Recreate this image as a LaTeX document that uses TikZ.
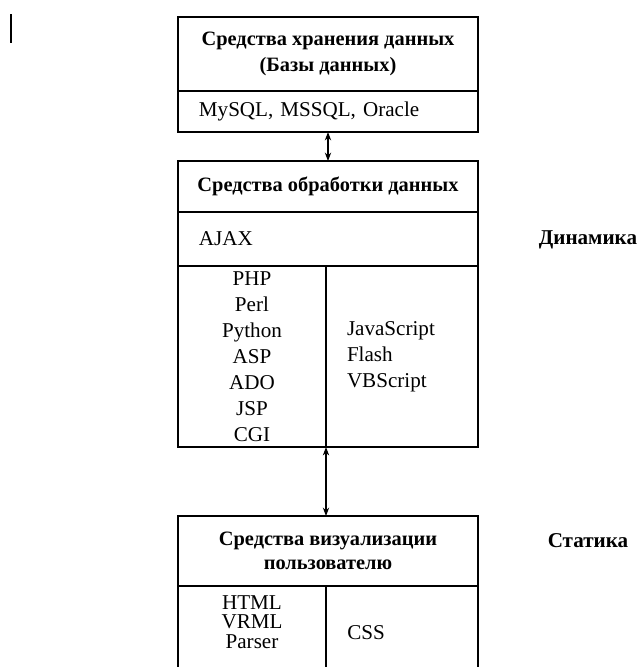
\documentclass[tikz,border=0pt]{standalone}
\usepackage{fontspec}
\setmainfont{Liberation Serif}
\usetikzlibrary{arrows.meta}
\usetikzlibrary{positioning}

\begin{document}
\begin{tikzpicture}[
    >={Stealth[length=6pt,width=4.5pt]},
    line join=miter,
    x=0.025cm,
    y=-0.025cm
]

% =========================================================
% Styles
% =========================================================
\tikzset{
    cellbox/.style={draw=black,line width=1.3pt,outer sep=0pt,inner sep=0pt,
        font=\fontsize{15}{18.5}\selectfont},
    headcell/.style={cellbox,minimum width=7.5cm,align=center,
        font=\bfseries\fontsize{14.5}{18.5}\selectfont},
    rowcell/.style={cellbox,minimum width=7.5cm,text width=6.45cm,
        align=left,inner xsep=0.525cm},
    leftcell/.style={cellbox,minimum width=3.7cm,align=center},
    rightcell/.style={cellbox,minimum width=3.8cm,text width=2.75cm,
        align=left,inner xsep=0.525cm},
    celltext/.style={inner sep=0pt,font=\fontsize{15}{14}\selectfont},
    sidelabel/.style={font=\bfseries\fontsize{15}{18}\selectfont},
    linkarrow/.style={<->,line width=0.8pt}
}

% =========================================================
% Frame
% =========================================================
\useasboundingbox (0,0) rectangle (641,667);
\clip (0,0) rectangle (641,667);

% text cursor, top left
\draw[line width=1.4pt] (11,14) -- (11,43);

% =========================================================
% Storage box
% =========================================================
\node[headcell,minimum height=1.85cm,anchor=north] (storehead)
    at (328,17) {Средства хранения данных\\(Базы данных)};
\node[rowcell,minimum height=1.025cm,below=0pt of storehead] (storelist)
    {MySQL, MSSQL, Oracle};

% =========================================================
% Processing box
% =========================================================
\node[headcell,minimum height=1.275cm,anchor=north] (prochead)
    at (328,161) {Средства обработки данных};
\node[rowcell,minimum height=1.35cm,below=0pt of prochead] (ajaxrow)
    {AJAX};
\node[leftcell,minimum height=4.525cm,anchor=north west] (weblist)
    at (ajaxrow.south west) {PHP\\Perl\\Python\\ASP\\ADO\\JSP\\CGI};
\node[rightcell,minimum height=4.525cm,anchor=north west] (clientlist)
    at (weblist.north east) {JavaScript\\Flash\\VBScript};

% =========================================================
% Visualisation box
% =========================================================
\node[headcell,minimum height=1.75cm,anchor=north,
    font=\bfseries\fontsize{14.5}{17}\selectfont] (vizhead)
    at (328,516) {Средства визуализации\\пользователю};
\node[leftcell,minimum height=3cm,anchor=north west] (htmlcell)
    at (vizhead.south west) {};
\node[rightcell,minimum height=3cm,anchor=north west] (csscell)
    at (htmlcell.north east) {};
\node[celltext,align=center] (htmltext) at (252,622) {HTML\\VRML\\Parser};
\node[celltext,anchor=west] (csstext) at (347,633) {CSS};

% links
\draw[linkarrow] (storelist.south) -- (prochead.north);
\draw[linkarrow] (weblist.south east) -- (weblist.south east |- vizhead.north);

% side labels
\node[sidelabel] (dynlabel) at (588,240) {Динамика};
\node[sidelabel] (statlabel) at (588,541) {Статика};

\end{tikzpicture}
\end{document}
